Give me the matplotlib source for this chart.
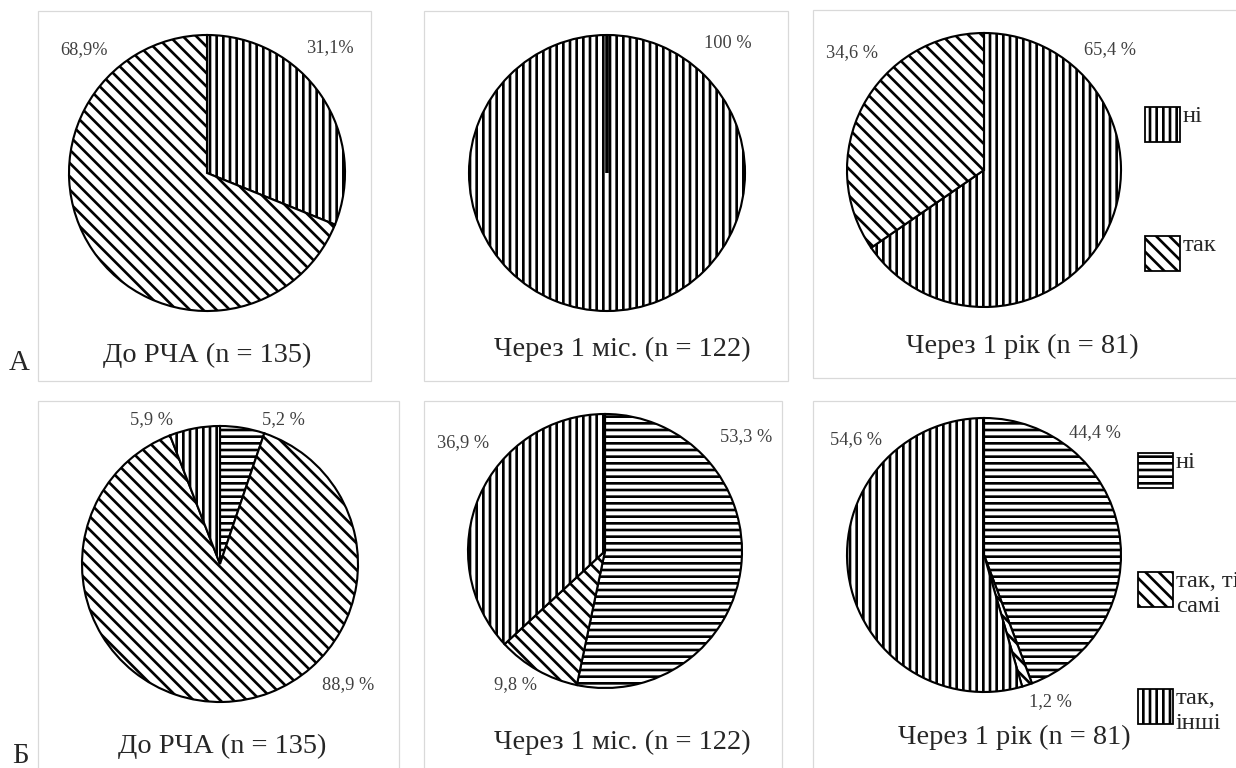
import matplotlib
matplotlib.use('Agg')
import matplotlib.pyplot as plt
from matplotlib.patches import Rectangle

# data
cats_a = ['ні', 'так']
a_before = [31.1, 68.9]
a_month = [100, 0]
a_year = [65.4, 34.6]

cats_b = ['ні', 'так, ті\nсамі', 'так,\nінші']
b_before = [5.2, 88.9, 5.9]
b_month = [53.3, 9.8, 36.9]
b_year = [44.4, 1.2, 54.6]

titles_a = ['До РЧА (n = 135)', 'Через 1 міс. (n = 122)', 'Через 1 рік (n = 81)']
titles_b = ['До РЧА (n = 135)', 'Через 1 міс. (n = 122)', 'Через 1 рік (n = 81)']

hatch_a = ['||', '\\\\']
hatch_b = ['--', '\\\\', '||']

W, H, DPI = 1236, 768, 80
plt.rcParams['font.family'] = ['Liberation Serif', 'DejaVu Serif']
plt.rcParams['hatch.linewidth'] = 2.4
plt.rcParams['hatch.color'] = 'black'

fig = plt.figure(figsize=(W / DPI, H / DPI), dpi=DPI)
fig.patch.set_facecolor('white')


def fx(x):
    return x / W


def fy(y):
    return 1 - y / H


def box(x0, y0, x1, y1):
    fig.patches.append(Rectangle((fx(x0), fy(y1)), fx(x1 - x0), (y1 - y0) / H,
                                 transform=fig.transFigure, fill=False,
                                 edgecolor='#d9d9d9', linewidth=1.1))


def pct(v, sep=' '):
    s = ('%.1f' % v).replace('.', ',')
    if v == 100:
        s = '100'
    return s + sep + '%'


def draw_pie(cx, cy, r, values, hatches):
    ax = fig.add_axes([fx(cx - r), fy(cy + r), 2 * r / W, 2 * r / H])
    wedges, _ = ax.pie(values, startangle=90, counterclock=False,
                       colors=['white'] * len(values), hatch=hatches,
                       wedgeprops=dict(edgecolor='black', linewidth=1.9))
    for w, v in zip(wedges, values):
        w.set_clip_on(False)
        if v == 0:
            w.set_linewidth(3.2)
    ax.set_xlim(-1, 1)
    ax.set_ylim(-1, 1)
    ax.axis('off')
    return ax


def label(x, y, s, size=16.5, color='#404040'):
    fig.text(fx(x), fy(y), s, ha='center', va='center', fontsize=size, color=color)


def legend(x0, tops, labels, hatches, w=35, h=35):
    for t, lab, hat in zip(tops, labels, hatches):
        fig.patches.append(Rectangle((fx(x0), fy(t + h)), w / W, h / H,
                                     transform=fig.transFigure, facecolor='white',
                                     edgecolor='black', linewidth=1.6, hatch=hat))
        fig.text(fx(x0 + w + 3), fy(t - 1), lab, ha='left', va='top',
                 fontsize=22, color='#262626', linespacing=1.25)


# panel frames
box(38, 11, 371, 381)
box(424, 11, 788, 381)
box(813, 10, 1245, 378)
box(38, 401, 399, 780)
box(424, 401, 782, 780)
box(813, 401, 1245, 780)

# row A
draw_pie(207, 173, 138, a_before, hatch_a)
draw_pie(607, 173, 138, a_month, hatch_a)
draw_pie(984, 170, 137, a_year, hatch_a)

label(84, 50, pct(a_before[1], ''))
label(330, 48, pct(a_before[0], ''))
label(728, 44, pct(a_month[0]))
label(852, 53, pct(a_year[1]))
label(1110, 50, pct(a_year[0]))

label(207, 355, titles_a[0], size=25.5, color='#262626')
label(622, 349, titles_a[1], size=25.5, color='#262626')
label(1022, 346, titles_a[2], size=25.5, color='#262626')

legend(1145, [107, 236], cats_a, hatch_a)

# row B
draw_pie(220, 564, 138, b_before, hatch_b)
draw_pie(605, 551, 137, b_month, hatch_b)
draw_pie(984, 555, 137, b_year, hatch_b)

label(283, 420, pct(b_before[0]))
label(348, 685, pct(b_before[1]))
label(152, 420, pct(b_before[2]))
label(746, 437, pct(b_month[0]))
label(516, 685, pct(b_month[1]))
label(463, 443, pct(b_month[2]))
label(1095, 433, pct(b_year[0]))
label(1050, 702, pct(b_year[1]))
label(856, 440, pct(b_year[2]))

label(222, 746, titles_b[0], size=25.5, color='#262626')
label(622, 742, titles_b[1], size=25.5, color='#262626')
label(1014, 737, titles_b[2], size=25.5, color='#262626')

legend(1138, [453, 572, 689], cats_b, hatch_b)

# panel letters
label(19, 363, 'А', size=26, color='#262626')
label(20, 756, 'Б', size=26, color='#262626')

fig.savefig('out.png', dpi=DPI, facecolor='white')
